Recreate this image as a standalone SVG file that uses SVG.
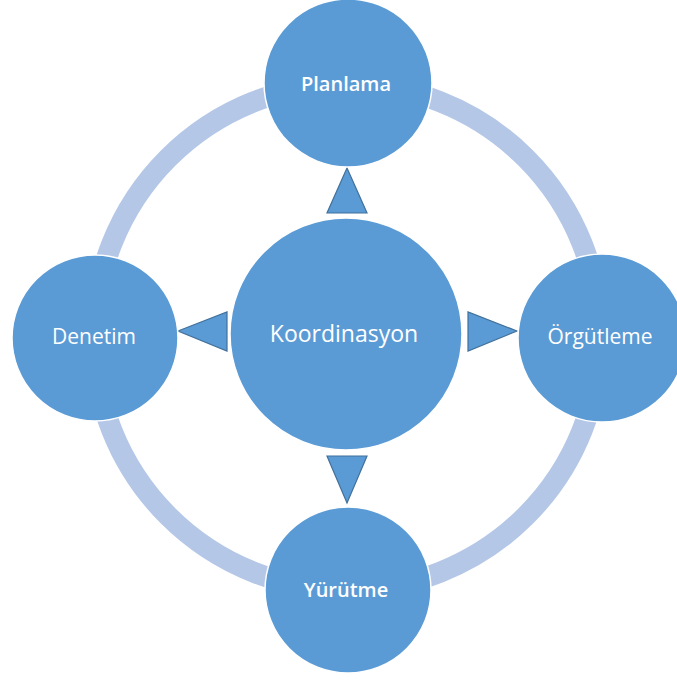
<svg xmlns="http://www.w3.org/2000/svg" width="677" height="680" viewBox="0 0 677 680">
<style>
.node{fill:#5b9bd5;stroke:#ffffff;stroke-width:1.5}
.lbl{fill:#ffffff;font-family:"Open Sans","Noto Sans",sans-serif;font-size:20px;text-anchor:middle;dominant-baseline:central}
.b{font-weight:600}
.big{font-size:23px}
.mid{font-size:21px}
.tri{fill:#5b9bd5;stroke:#41719c;stroke-width:1.2;stroke-linejoin:miter}
.ring{fill:none;stroke:#b4c7e7;stroke-width:21}
</style>
<rect width="677" height="680" fill="#ffffff"/>
<g id="connectors">
<circle class="ring" cx="347" cy="337" r="253"/>
<polygon class="tri" points="347,168 367,213 327,213"/>
<polygon class="tri" points="347,503 367,456 327,456"/>
<polygon class="tri" points="178,331 227,312 227,351"/>
<polygon class="tri" points="517,331 468,312 468,351"/>
</g>
<g id="koordinasyon">
<circle class="node" cx="346" cy="334" r="116"/>
<text class="lbl big" x="344" y="333">Koordinasyon</text>
</g>
<g id="planlama">
<circle class="node" cx="348" cy="83" r="84"/>
<text class="lbl b" x="346" y="83">Planlama</text>
</g>
<g id="orgutleme">
<circle class="node" cx="602" cy="338" r="84"/>
<text class="lbl mid" x="600" y="336">Örgütleme</text>
</g>
<g id="yurutme">
<circle class="node" cx="348" cy="590" r="83"/>
<text class="lbl b" x="346" y="589">Yürütme</text>
</g>
<g id="denetim">
<circle class="node" cx="95" cy="338" r="83"/>
<text class="lbl mid" x="94" y="336">Denetim</text>
</g>
</svg>
